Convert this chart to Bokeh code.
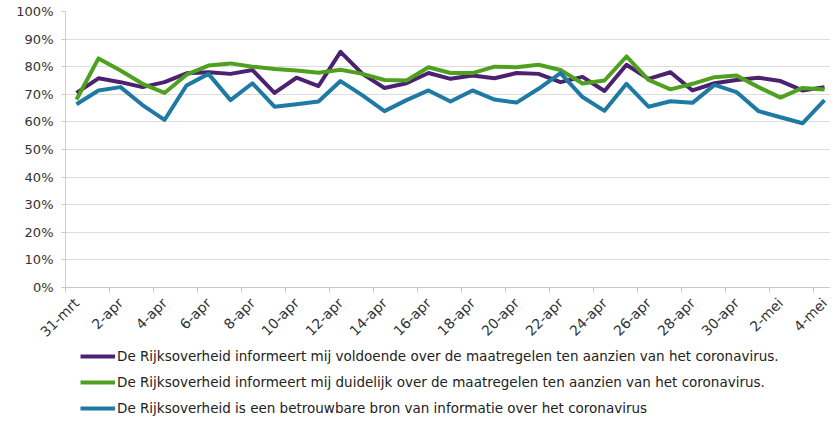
from bokeh.plotting import figure
from bokeh.models import Range1d, FixedTicker, Legend, LegendItem, ColumnDataSource
from bokeh.layouts import column
from bokeh.embed import file_html
from bokeh.resources import INLINE
import math

dates = ["31-mrt"] + [f"{d}-apr" for d in range(1, 31)] + [f"{d}-mei" for d in range(1, 5)]

voldoende = [70.5, 75.8, 74.4, 72.6, 74.4, 77.6, 78.0, 77.4, 78.8, 70.5,
             76.0, 73.0, 85.4, 77.4, 72.3, 74.0, 77.7, 75.6, 76.8, 75.8,
             77.7, 77.4, 74.4, 76.3, 71.2, 80.7, 75.6, 78.0, 71.4, 74.0,
             75.2, 76.0, 74.8, 71.4, 72.6]
duidelijk = [68.1, 83.0, 78.6, 73.8, 70.5, 77.1, 80.4, 81.2, 80.0, 79.2,
             78.6, 77.8, 78.9, 77.4, 75.2, 75.0, 79.8, 77.7, 77.7, 80.0,
             79.8, 80.7, 78.8, 73.9, 75.0, 83.7, 75.2, 71.8, 73.8, 76.2,
             76.8, 72.6, 68.8, 72.3, 71.7]
betrouwbaar = [66.4, 71.4, 72.6, 66.1, 60.7, 73.2, 77.4, 67.9, 74.0, 65.5,
               66.4, 67.4, 74.8, 69.6, 63.9, 67.9, 71.4, 67.4, 71.4, 68.1,
               67.0, 72.0, 77.7, 69.0, 64.0, 73.8, 65.5, 67.5, 66.9, 73.4,
               70.8, 63.9, 61.7, 59.5, 67.9]

labels = [
    "De Rijksoverheid informeert mij voldoende over de maatregelen ten aanzien van het coronavirus.",
    "De Rijksoverheid informeert mij duidelijk over de maatregelen ten aanzien van het coronavirus.",
    "De Rijksoverheid is een betrouwbare bron van informatie over het coronavirus",
]
colors = ["#4B2170", "#50A020", "#1E7AA2"]

y_ticks = list(range(0, 101, 10))

xs = [i + 0.5 for i in range(len(dates))]

FONT = "DejaVu Sans"
W = 830
H1, H2 = 348, 75
LEFT, TOP = 65, 11
p = figure(width=W, height=H1, output_backend="svg", toolbar_location=None,
           x_range=Range1d(0, (W - LEFT) / 22), y_range=Range1d(0, 100),
           min_border_left=LEFT, min_border_right=0, min_border_top=TOP,
           min_border_bottom=40)
p.outline_line_color = None
p.background_fill_color = "white"
p.border_fill_color = "white"

for vals, col in zip([voldoende, duidelijk, betrouwbaar], colors):
    src = ColumnDataSource(dict(x=xs, y=vals))
    p.line("x", "y", source=src, line_color=col, line_width=4, line_join="round")

# x axis
major = [i + 0.5 for i in range(0, len(dates), 2)]
minor = [i for i in range(0, len(dates), 2)]
p.xaxis.ticker = FixedTicker(ticks=major, minor_ticks=minor)
p.xaxis.major_label_overrides = {m: dates[int(m - 0.5)] for m in major}
p.xaxis.major_label_orientation = math.pi / 4
p.xaxis.major_tick_out = 0
p.xaxis.major_tick_in = 0
p.xaxis.minor_tick_out = 5
p.xaxis.minor_tick_in = 0
p.xaxis.minor_tick_line_color = "#c8c8c8"
p.xaxis.axis_line_color = "#c8c8c8"
p.xaxis.major_label_text_font = FONT
p.xaxis.major_label_text_font_size = "14px"
p.xaxis.major_label_text_color = "#333333"
p.xaxis.major_label_standoff = 8

# y axis
p.yaxis.ticker = FixedTicker(ticks=y_ticks, minor_ticks=[])
p.yaxis.major_label_overrides = {v: f"{v}%" for v in y_ticks}
p.yaxis.major_tick_out = 4
p.yaxis.major_tick_in = 0
p.yaxis.major_tick_line_color = "#c8c8c8"
p.yaxis.axis_line_color = "#d0d0d0"
p.yaxis.major_label_text_font = FONT
p.yaxis.major_label_text_font_size = "13px"
p.yaxis.major_label_text_color = "#333333"
p.yaxis.major_label_standoff = 8

p.xgrid.grid_line_color = None
p.ygrid.grid_line_color = "#dcdcdc"
p.ygrid.ticker = FixedTicker(ticks=y_ticks)

# legend panel below the chart (its frame is aligned with the chart frame)
q = figure(width=W, height=H2, output_backend="svg", toolbar_location=None,
           x_range=Range1d(0, 1), y_range=Range1d(0, 1),
           x_axis_location=None, y_axis_location=None,
           min_border_left=LEFT, min_border_right=0, min_border_top=0, min_border_bottom=0)
q.grid.visible = False
q.outline_line_color = None
q.border_fill_color = "white"
q.background_fill_color = "white"
leg_renderers = [q.line(x=[-10, -9], y=[-10, -9], line_color=c, line_width=4) for c in colors]
legend = Legend(items=[LegendItem(label=l, renderers=[r]) for l, r in zip(labels, leg_renderers)],
                location=(15, 7), orientation="vertical",
                border_line_alpha=0, background_fill_alpha=0,
                padding=0, margin=0, spacing=10,
                glyph_width=35, glyph_height=16, label_height=16, label_standoff=2,
                label_text_font=FONT, label_text_font_size="13.5px",
                label_text_color="#222222")
q.add_layout(legend, "center")

open("out.html", "w").write(file_html(column(p, q, spacing=0), INLINE))
